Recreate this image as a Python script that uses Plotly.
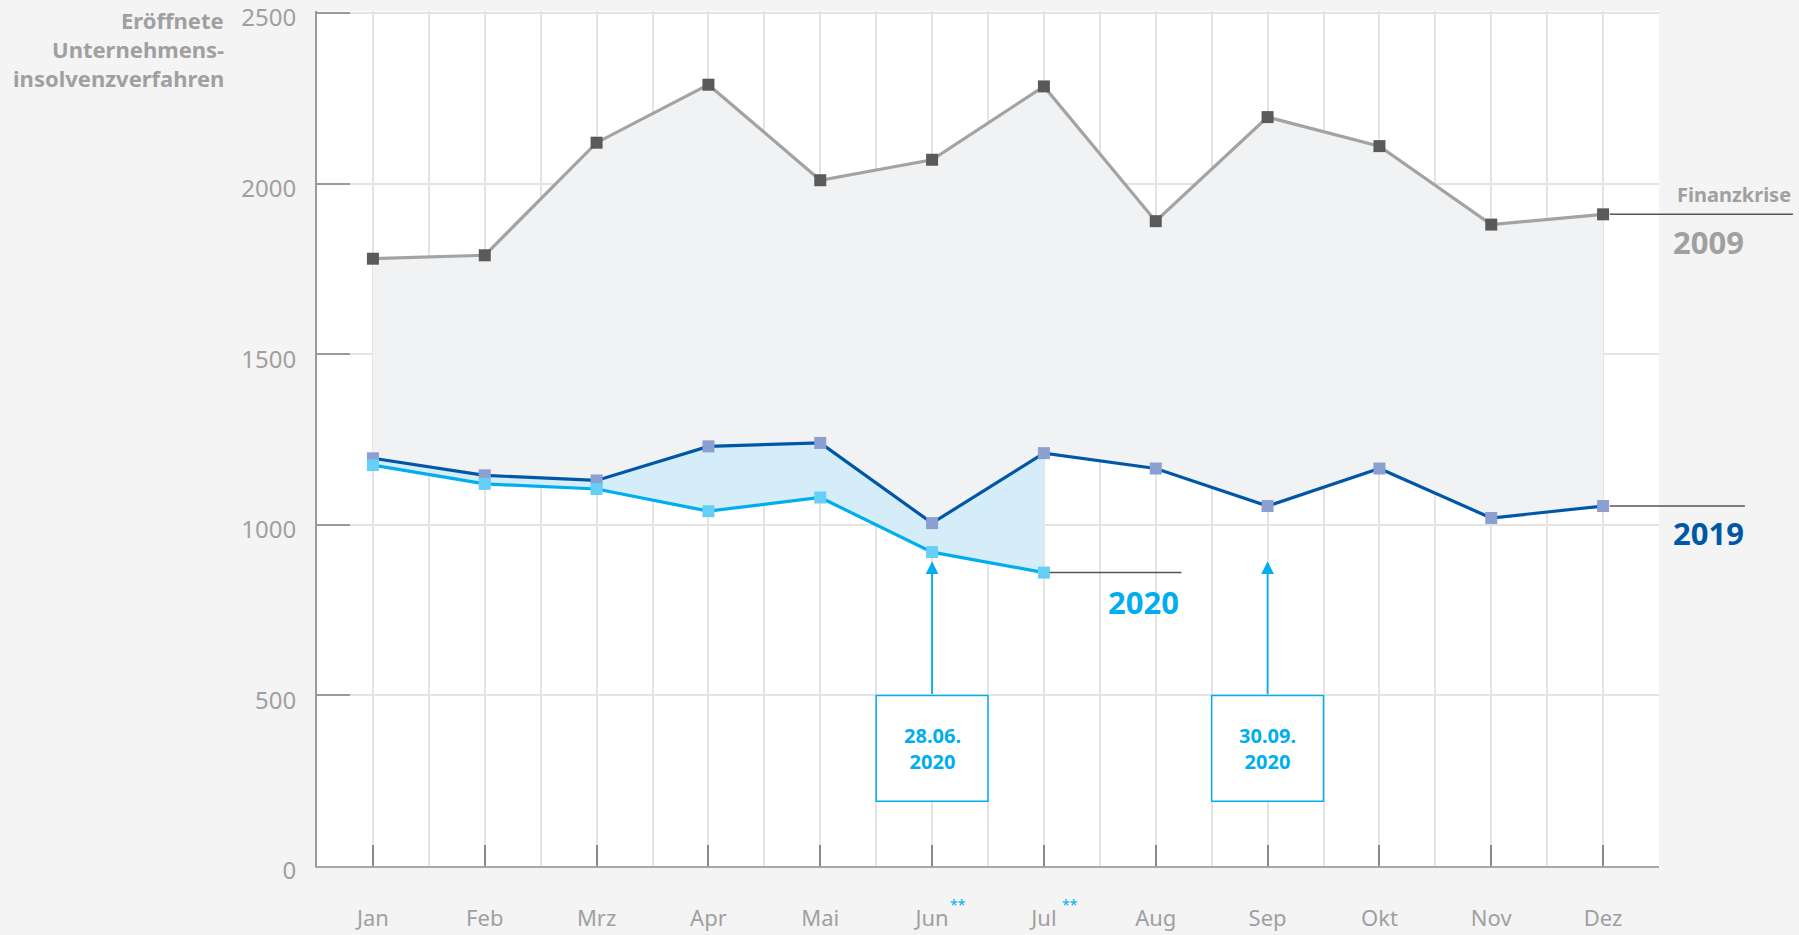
import plotly.graph_objects as go

months = ["Jan", "Feb", "Mrz", "Apr", "Mai", "Jun", "Jul", "Aug", "Sep", "Okt", "Nov", "Dez"]
x_idx = list(range(12))
v2009 = [1780, 1790, 2120, 2290, 2010, 2070, 2285, 1890, 2195, 2110, 1880, 1910]
v2019 = [1195, 1145, 1130, 1230, 1240, 1005, 1210, 1165, 1055, 1165, 1020, 1055]
v2020 = [1175, 1120, 1105, 1040, 1080, 920, 860]
y_ticks = [0, 500, 1000, 1500, 2000, 2500]
box_labels = ["28.06.<br>2020", "30.09.<br>2020"]
box_months = [5, 8]

FONT = "Noto Sans"
GRAY_TXT = "#a0a0a0"
C2009_LINE = "#a3a3a3"
C2009_MK = "#5a5a5a"
C2019_LINE = "#0057a8"
C2019_MK = "#8c9fd1"
C2020_LINE = "#00aeef"
C2020_MK = "#66cff5"

fig = go.Figure()
# fills
fig.add_trace(go.Scatter(x=x_idx, y=v2019, mode="lines", line=dict(width=0, color="rgba(0,0,0,0)"),
                         hoverinfo="skip", showlegend=False))
fig.add_trace(go.Scatter(x=x_idx, y=v2009, mode="lines", line=dict(width=0, color="rgba(0,0,0,0)"),
                         fill="tonexty", fillcolor="#f1f2f4", hoverinfo="skip", showlegend=False))
n20 = len(v2020)
fig.add_trace(go.Scatter(x=x_idx[:n20], y=v2020, mode="lines", line=dict(width=0, color="rgba(0,0,0,0)"),
                         hoverinfo="skip", showlegend=False))
fig.add_trace(go.Scatter(x=x_idx[:n20], y=v2019[:n20], mode="lines", line=dict(width=0, color="rgba(0,0,0,0)"),
                         fill="tonexty", fillcolor="#d5ecf9", hoverinfo="skip", showlegend=False))
# lines
fig.add_trace(go.Scatter(x=x_idx, y=v2009, mode="lines+markers", name="2009",
                         line=dict(color=C2009_LINE, width=3.2),
                         marker=dict(symbol="square", size=12, color=C2009_MK), showlegend=False))
fig.add_trace(go.Scatter(x=x_idx, y=v2019, mode="lines+markers", name="2019",
                         line=dict(color=C2019_LINE, width=3.2),
                         marker=dict(symbol="square", size=12, color=C2019_MK), showlegend=False))
fig.add_trace(go.Scatter(x=x_idx[:n20], y=v2020, mode="lines+markers", name="2020",
                         line=dict(color=C2020_LINE, width=3.2),
                         marker=dict(symbol="square", size=12, color=C2020_MK), showlegend=False))

shapes = []
# end label connector lines
shapes.append(dict(type="line", xref="paper", yref="y", x0=(11 + 0.5) / 12 + 0.005, x1=1.0998,
                   y0=v2009[-1], y1=v2009[-1], line=dict(color="#555555", width=1.5), layer="above"))
shapes.append(dict(type="line", xref="paper", yref="y", x0=(11 + 0.5) / 12 + 0.005, x1=1.064,
                   y0=v2019[-1], y1=v2019[-1], line=dict(color="#555555", width=1.5), layer="above"))
shapes.append(dict(type="line", xref="x", yref="y", x0=6.05, x1=7.23,
                   y0=v2020[-1], y1=v2020[-1], line=dict(color="#555555", width=1.5), layer="above"))
# boxes
for m in box_months:
    shapes.append(dict(type="rect", xref="x", yref="y", x0=m - 0.5, x1=m + 0.5, y0=190, y1=500,
                       line=dict(color=C2020_LINE, width=1.5), fillcolor="white", layer="above"))

annotations = []
for m, t in zip(box_months, box_labels):
    annotations.append(dict(x=m, y=345, xref="x", yref="y", text=f"<b>{t}</b>", showarrow=False,
                            font=dict(family=FONT, size=20, color=C2020_LINE), align="center"))
    annotations.append(dict(x=m, y=893, ax=m, ay=500, xref="x", yref="y", axref="x", ayref="y",
                            text="", showarrow=True, arrowhead=2, arrowsize=1.4, arrowwidth=1.8,
                            arrowcolor=C2020_LINE, standoff=0, startstandoff=0))

# series labels
annotations.append(dict(x=1.0995, y=1967, xref="paper", yref="y", text="<b>Finanzkrise</b>",
                        showarrow=False, xanchor="right", yanchor="middle",
                        font=dict(family=FONT, size=20, color=GRAY_TXT)))
annotations.append(dict(x=1.0645, y=1830, xref="paper", yref="y", text="<b>2009</b>",
                        showarrow=False, xanchor="right", yanchor="middle",
                        font=dict(family=FONT, size=31, color=GRAY_TXT)))
annotations.append(dict(x=1.0645, y=975, xref="paper", yref="y", text="<b>2019</b>",
                        showarrow=False, xanchor="right", yanchor="middle",
                        font=dict(family=FONT, size=31, color=C2019_LINE)))
annotations.append(dict(x=7.23, y=774, xref="x", yref="y", text="<b>2020</b>",
                        showarrow=False, xanchor="right", yanchor="middle",
                        font=dict(family=FONT, size=31, color=C2020_LINE)))

# y axis title lines
title_lines = ["Eröffnete", "Unternehmens-", "insolvenzverfahren"]
title_y_px = [20, 49, 78]
for t, ypx in zip(title_lines, title_y_px):
    annotations.append(dict(x=-0.0676, y=(866 - ypx) / 855, xref="paper", yref="paper",
                            text=f"<b>{t}</b>", showarrow=False, xanchor="right", yanchor="middle",
                            font=dict(family=FONT, size=22, color=GRAY_TXT)))

# ** footnote markers
for m in [5, 6]:
    annotations.append(dict(x=m, y=-0.0447, xref="x", yref="paper", text="**", showarrow=False,
                            xanchor="left", yanchor="middle", xshift=16,
                            font=dict(family=FONT, size=14, color=C2020_LINE)))

fig.update_layout(
    width=1799, height=935,
    paper_bgcolor="#f4f4f4", plot_bgcolor="white",
    margin=dict(l=317, r=140, t=11, b=69, autoexpand=False),
    shapes=shapes, annotations=annotations,
    font=dict(family=FONT, color=GRAY_TXT),
    hovermode=False,
)
fig.update_xaxes(
    range=[-0.5, 11.5], tickvals=x_idx, ticktext=months,
    showgrid=True, gridcolor="#e4e4e4", gridwidth=2,
    minor=dict(tick0=0.5, dtick=1, showgrid=True, gridcolor="#e4e4e4", gridwidth=2),
    ticks="inside", ticklen=21, tickwidth=2, tickcolor="#8a8a8a",
    showline=True, linecolor="#a8a8a8", linewidth=2,
    tickfont=dict(family=FONT, size=22, color=GRAY_TXT), ticklabelstandoff=32,
    zeroline=False, automargin=False,
)
fig.update_yaxes(
    range=[0, 2506], tickvals=y_ticks,
    showgrid=True, gridcolor="#e4e4e4", gridwidth=2,
    ticks="inside", ticklen=33, tickwidth=2, tickcolor="#9a9a9a",
    showline=True, linecolor="#9a9a9a", linewidth=2,
    tickfont=dict(family=FONT, size=24, color=GRAY_TXT), ticklabelstandoff=14,
    ticklabelshift=5, ticklabeloverflow="allow",
    zeroline=False, automargin=False,
)

fig.write_html("out.html", post_script="document.body.style.margin='0';",
               config={"displayModeBar": False})
